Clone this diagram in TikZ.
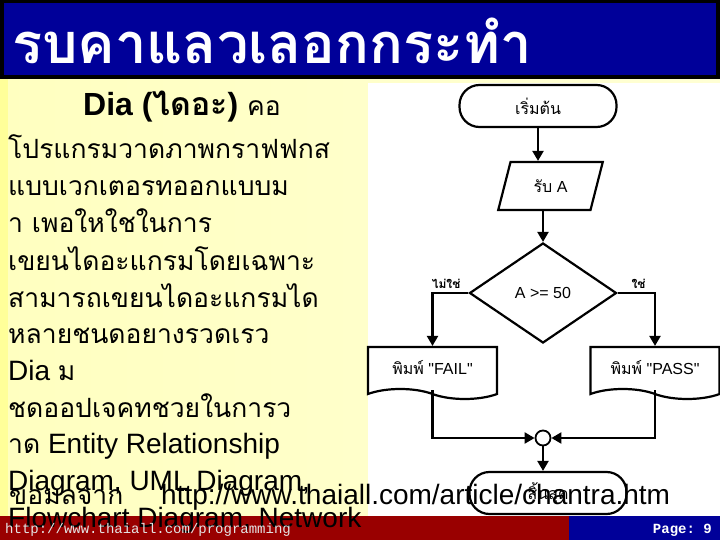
\documentclass[tikz,border=0pt]{standalone}
\usepackage{fontspec}
\setmainfont{Liberation Sans}
\setmonofont{Liberation Mono}
\newfontfamily\thai[Script=Thai]{Loma}
\newfontfamily\chartfont{Liberation Sans}
\usetikzlibrary{arrows.meta,shapes.geometric,shapes.symbols}
\definecolor{navy}{HTML}{000099}
\definecolor{maroon}{HTML}{990000}
\definecolor{paleyel}{HTML}{FFFFC0}
\definecolor{lightyel}{HTML}{FFFFD4}
\definecolor{stripyel}{HTML}{FFFF99}
\definecolor{footgray}{HTML}{E4E4E4}
\newcommand{\bodysize}{\fontsize{28}{34}\selectfont}
\newcommand{\thaibody}{\thai\fontsize{26.5}{34}\selectfont}
\newcommand{\chartsize}{\fontsize{16}{19}\selectfont}

\begin{document}
\begin{tikzpicture}[x=1pt,y=-1pt,every node/.style={inner sep=0pt},
    txt/.style={anchor=base west,font=\bodysize},
    term/.style={draw,line width=2.2pt,fill=white,rounded corners=20pt,minimum width=157pt,minimum height=42pt,font=\chartsize\thai},
    inbox/.style={draw,line width=2.2pt,trapezium,trapezium left angle=68,trapezium right angle=112,trapezium stretches=true,minimum width=105pt,minimum height=48pt,font=\chartsize\chartfont},
    decide/.style={draw,line width=2.2pt,diamond,minimum width=147pt,minimum height=100pt,font=\chartsize\chartfont},
    docbox/.style={draw,line width=2.2pt,tape,tape bend top=none,tape bend bottom=out and in,tape bend height=10pt,minimum width=129pt,minimum height=52pt,font=\chartsize\chartfont},
    joinpt/.style={draw,line width=1.8pt,fill=white,circle,minimum size=15pt},
    lbl/.style={font=\fontsize{12}{14}\selectfont\thai\bfseries},
    flow/.style={line width=2.2pt,-{Triangle[length=10pt,width=11pt]}}]
  \useasboundingbox (0,0) rectangle (720,540);
  % slide background and title bar
  \shade[left color=paleyel,right color=lightyel] (0,79) rectangle (720,516);
  \fill[stripyel] (0,79) rectangle (8,516);
  \fill[black] (0,0) rectangle (720,79);
  \fill[navy] (4,3) rectangle (716,75);
  \node[anchor=base west,text=white,font=\fontsize{56}{56}\selectfont\thai\bfseries] (title) at (12,64) {รบคาแลวเลอกกระทำ};
  % flowchart picture
  \fill[white] (368,83) rectangle (720,516);
  \node[term] (start) at (538,106) {เริ่มต้น};
  \node[inbox] (input) at (550.5,186) {{\thai รับ} A};
  \node[decide] (dec) at (543,293) {A >= 50};
  \node[docbox] (fail) at (432.5,368) {{\thai พิมพ์} "FAIL"};
  \node[docbox] (pass) at (655,368) {{\thai พิมพ์} "PASS"};
  \node[joinpt] (join) at (543,438) {};
  \node[term] (stop) at (548,493) {สิ้นสุด};
  \draw[flow] (start.south) -- (start.south |- input.north);
  \draw[flow] (input.south -| dec.north) -- (dec.north);
  \draw[flow] (dec.west) -| node[pos=.31,above=3pt,lbl] {ไม่ใช่} (fail.north);
  \draw[flow] (dec.east) -| node[pos=.28,above=3pt,lbl] {ใช่} (pass.north);
  \draw[flow] (fail.south) |- (join.west);
  \draw[flow] (pass.south) |- (join.east);
  \draw[flow] (join.south) -- (join.south |- stop.north);
  % footer bar
  \fill[maroon] (0,516) rectangle (569,540);
  \fill[navy] (569,516) rectangle (720,540);
  % slide text
  \node[anchor=base west] (head) at (83,116) {\fontsize{32}{36}\selectfont\bfseries Dia ({\thai ไดอะ})\thaibody\mdseries{} คอ};
  \foreach \y/\t [count=\i] in {159/{\thaibody โปรแกรมวาดภาพกราฟฟกส},196/{\thaibody แบบเวกเตอรทออกแบบม},
      233/{\thaibody า เพอใหใชในการ},270/{\thaibody เขยนไดอะแกรมโดยเฉพาะ},307/{\thaibody สามารถเขยนไดอะแกรมได},
      343/{\thaibody หลายชนดอยางรวดเรว},380/{Dia {\thaibody ม}},417/{\thaibody ชดออปเจคทชวยในการว},
      453/{{\thaibody าด} Entity Relationship},490/{Diagram, UML Diagram,},527/{Flowchart Diagram, Network}}
    \node[txt] (line\i) at (8,\y) {\t};
  \node[txt] (src) at (9,504) {\thaibody ขอมลจาก};
  \node[txt] (url) at (161,504) {http://www.thaiall.com/article/chantra.htm};
  \node[anchor=base west,text=footgray,font=\ttfamily\fontsize{14}{16}\selectfont] (site) at (5,533) {http://www.thaiall.com/programming};
  \node[anchor=base east,text=white,font=\ttfamily\bfseries\fontsize{14}{16}\selectfont] (page) at (712,533) {Page: 9};
\end{tikzpicture}
\end{document}
